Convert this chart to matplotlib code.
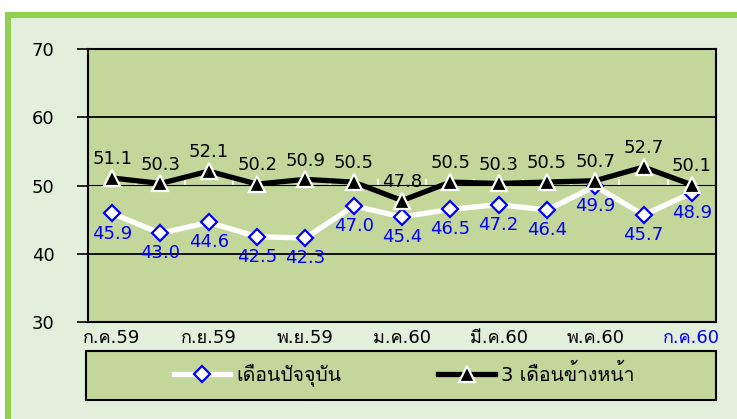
import matplotlib
matplotlib.use("Agg")
import matplotlib.pyplot as plt
from matplotlib.patches import Rectangle
from matplotlib.lines import Line2D

plt.rcParams['font.family'] = ['DejaVu Sans', 'Loma']

months = ['ก.ค.59', 'ส.ค.59', 'ก.ย.59', 'ต.ค.59', 'พ.ย.59', 'ธ.ค.59', 'ม.ค.60',
          'ก.พ.60', 'มี.ค.60', 'เม.ย.60', 'พ.ค.60', 'มิ.ย.60', 'ก.ค.60']
current = [45.9, 43.0, 44.6, 42.5, 42.3, 47.0, 45.4, 46.5, 47.2, 46.4, 49.9, 45.7, 48.9]
ahead = [51.1, 50.3, 52.1, 50.2, 50.9, 50.5, 47.8, 50.5, 50.3, 50.5, 50.7, 52.7, 50.1]
shown_ticks = [0, 2, 4, 6, 8, 10, 12]
yticks = [30, 40, 50, 60, 70]

W, H = 737, 419
fig = plt.figure(figsize=(W / 100, H / 100), dpi=100)
fig.patch.set_facecolor('white')

# green frame and light background
fig.patches.append(Rectangle((5 / W, -0.1), 1.2, 1.1 - 12 / H, transform=fig.transFigure,
                             facecolor='#92D050', edgecolor='none', zorder=-3))
fig.patches.append(Rectangle((11 / W, -0.1), 1.2, 1.1 - 18 / H, transform=fig.transFigure,
                             facecolor='#E2EFDA', edgecolor='none', zorder=-2))

ax = fig.add_axes([88 / W, 1 - 322 / H, 628 / W, 273 / H])
ax.set_facecolor('#C4D79B')
x = list(range(len(months)))

ax.plot(x, current, color='white', lw=3.8, marker='D', ms=8.5, mfc='white', mec='#0000FF',
        mew=1.6, zorder=3)
ax.plot(x, ahead, color='black', lw=3.8, marker='^', ms=11, mfc='black', mec='white',
        mew=1.6, zorder=4)

for xi, v in zip(x, ahead):
    ax.annotate(f'{v:.1f}', (xi, v), xytext=(0, 7), textcoords='offset points',
                ha='center', va='bottom', fontsize=13, color='black', zorder=5)
for xi, v in zip(x, current):
    ax.annotate(f'{v:.1f}', (xi, v), xytext=(0, -8), textcoords='offset points',
                ha='center', va='top', fontsize=13, color='#0000FF', zorder=5)

ax.set_xlim(-0.5, len(months) - 0.5)
ax.set_ylim(30, 70)
ax.set_yticks(yticks)
ax.tick_params(axis='y', length=8, width=1.2, pad=16, labelsize=13, color='black')
for yy in [40, 60]:
    ax.axhline(yy, color='black', lw=1.3, zorder=1)

ax.set_xticks(shown_ticks)
ax.set_xticklabels([months[i] for i in shown_ticks])
ax.tick_params(axis='x', length=0, pad=5, labelsize=13)
ax.get_xticklabels()[-1].set_color('#0000FF')

for s in ax.spines.values():
    s.set_color('black')
    s.set_linewidth(1.5)

# category axis crossing at 50
sec = ax.secondary_xaxis(0.5)
sec.set_xticks([i - 0.5 for i in range(len(months) + 1)])
sec.set_xticklabels([])
sec.spines['bottom'].set_color('white')
sec.spines['bottom'].set_linewidth(1.8)
sec.tick_params(axis='x', direction='out', length=4, width=1.3, color='white')
sec.set_zorder(2)

# legend box
fig.patches.append(Rectangle((86 / W, 1 - 400 / H), 630 / W, 49 / H, transform=fig.transFigure,
                             facecolor='#C4D79B', edgecolor='black', lw=1.5, zorder=1))
handles = [
    Line2D([], [], color='white', lw=3.8, marker='D', ms=8.5, mfc='white', mec='#0000FF', mew=1.6),
    Line2D([], [], color='black', lw=3.8, marker='^', ms=11, mfc='black', mec='white', mew=1.6),
]
fig.legend(handles, ['เดือนปัจจุบัน', '3 เดือนข้างหน้า'], loc='center',
           bbox_to_anchor=(404 / W, 1 - 375 / H), ncol=2, frameon=False, fontsize=14,
           handlelength=2.9, handletextpad=0.3, columnspacing=5.0)

fig.savefig('out.png', dpi=100)
